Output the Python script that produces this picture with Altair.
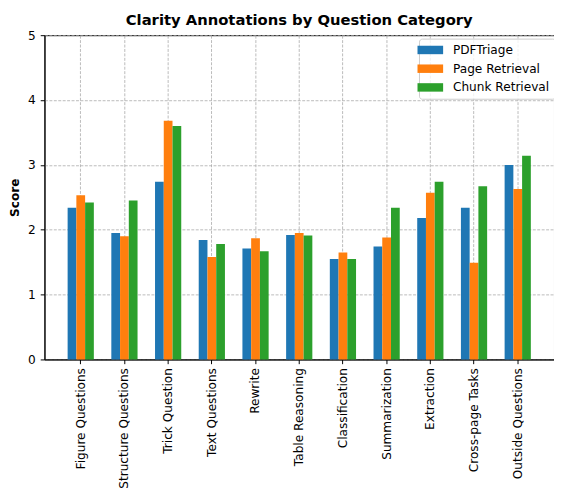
import altair as alt
import pandas as pd

categories = ["Figure Questions", "Structure Questions", "Trick Question", "Text Questions",
              "Rewrite", "Table Reasoning", "Classification", "Summarization",
              "Extraction", "Cross-page Tasks", "Outside Questions"]
series = ["PDFTriage", "Page Retrieval", "Chunk Retrieval"]
pdftriage = [2.34, 1.95, 2.74, 1.84, 1.71, 1.92, 1.55, 1.74, 2.18, 2.34, 3.00]
page_retrieval = [2.53, 1.90, 3.68, 1.58, 1.87, 1.95, 1.65, 1.88, 2.57, 1.49, 2.63]
chunk_retrieval = [2.42, 2.45, 3.60, 1.78, 1.67, 1.91, 1.55, 2.34, 2.74, 2.67, 3.14]
colors = ["#1f77b4", "#ff7f0e", "#2ca02c"]
y_ticks = [0, 1, 2, 3, 4, 5]

rows = []
for name, vals in zip(series, [pdftriage, page_retrieval, chunk_retrieval]):
    for c, v in zip(categories, vals):
        rows.append({"Category": c, "Series": name, "Score": v})
df = pd.DataFrame(rows)

FONT = "DejaVu Sans"
FS = 12.3

rect_path = "M-2,-0.66L2,-0.66L2,0.66L-2,0.66Z"

chart = alt.Chart(df).mark_bar().encode(
    x=alt.X("Category:N", sort=categories,
            scale=alt.Scale(paddingInner=0.4, paddingOuter=0.53),
            axis=alt.Axis(title=None, labelAngle=-90, bandPosition=0.5, grid=True,
                          labelFont=FONT, labelFontSize=FS, labelColor="black",
                          tickColor="black", tickSize=4.3, labelPadding=4,
                          domainColor="black")),
    xOffset=alt.XOffset("Series:N", sort=series,
                        scale=alt.Scale(paddingInner=0, paddingOuter=0)),
    y=alt.Y("Score:Q", scale=alt.Scale(domain=[0, 5], nice=False),
            axis=alt.Axis(values=y_ticks, title="Score", grid=True,
                          labelFont=FONT, labelFontSize=FS, labelColor="black",
                          tickColor="black", tickSize=4.3, labelPadding=5,
                          domainColor="black",
                          titleFont=FONT, titleFontSize=FS, titleFontWeight="bold",
                          titleColor="black", titlePadding=6)),
    color=alt.Color("Series:N", sort=series,
                    scale=alt.Scale(domain=series, range=colors),
                    legend=alt.Legend(title=None, orient="none", legendX=380, legendY=3.5,
                                      symbolType=rect_path, symbolSize=169,
                                      symbolStrokeWidth=0, symbolOpacity=1,
                                      labelFont=FONT, labelFontSize=FS, labelColor="black",
                                      labelOffset=16.5, padding=5, rowPadding=6,
                                      fillColor="rgba(255,255,255,0.8)",
                                      strokeColor="#cccccc", cornerRadius=3)),
).properties(
    width=517, height=329,
    title=alt.TitleParams("Clarity Annotations by Question Category", font=FONT,
                          fontSize=15, fontWeight="bold", color="black",
                          anchor="middle", baseline="alphabetic", offset=6, dy=17),
    autosize=alt.AutoSizeParams(type="none"),
    padding={"left": 37, "top": 24, "right": 0, "bottom": 136},
).configure_view(
    stroke="black", strokeWidth=1
).configure_axis(
    gridColor="#aaaaaa", gridDash=[3, 1.5], gridWidth=0.8
)

chart.save("out.html", embed_options={"renderer": "svg", "actions": False})
